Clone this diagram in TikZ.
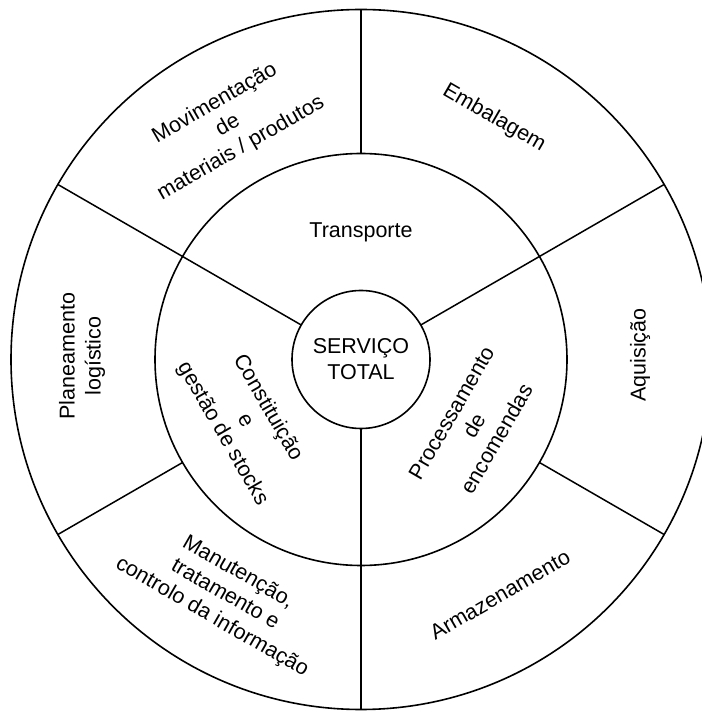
\documentclass[tikz,border=0pt]{standalone}
\usepackage{fontspec}
\setmainfont{Liberation Sans}
\begin{document}
\begin{tikzpicture}[x=1pt,y=1pt,
  ring/.style={circle, draw, line width=1.6pt, inner sep=0pt, outer sep=0pt},
  divider/.style={line width=1.5pt},
  txt/.style={align=center, inner sep=0pt, font=\fontsize{21.5}{26}\selectfont}]
\useasboundingbox (0,0) rectangle (702,713);
\coordinate (c) at (361,353.5);
% three concentric rings
\node[ring, minimum size=700pt] (outer) at (c) {};
\node[ring, minimum size=412pt] (middle) at (c) {};
\node[ring, txt, minimum size=138pt] (hub) at (c) {SERVIÇO\\TOTAL};
% dividers of the inner ring (reaching the rim) and of the outer ring only
\draw[divider] (hub.30)  -- (outer.30);
\draw[divider] (hub.150) -- (outer.150);
\draw[divider] (hub.270) -- (outer.270);
\draw[divider] (middle.90)  -- (outer.90);
\draw[divider] (middle.210) -- (outer.210);
\draw[divider] (middle.330) -- (outer.330);
% inner ring
\node[txt] (transp) at (361,481) {Transporte};
\node[txt, rotate=-60] (stocks) at (245,292) {Constituição\\e\\gestão de stocks};
\node[txt, rotate=60] (orders) at (474,287) {Processamento\\de\\encomendas};
% outer ring
\node[txt, rotate=30] (moving) at (228,587) {Movimentação\\de\\materiais / produtos};
\node[txt, rotate=-30] (packing) at (494,595) {Embalagem};
\node[txt, rotate=90] (planning) at (82,357) {Planeamento\\logístico};
\node[txt, rotate=90] (purchase) at (640,358) {Aquisição};
\node[txt, rotate=-30] (info) at (225,118) {Manutenção,\\tratamento e\\controlo da informação};
\node[txt, rotate=30] (storage) at (500,118) {Armazenamento};
\end{tikzpicture}
\end{document}
